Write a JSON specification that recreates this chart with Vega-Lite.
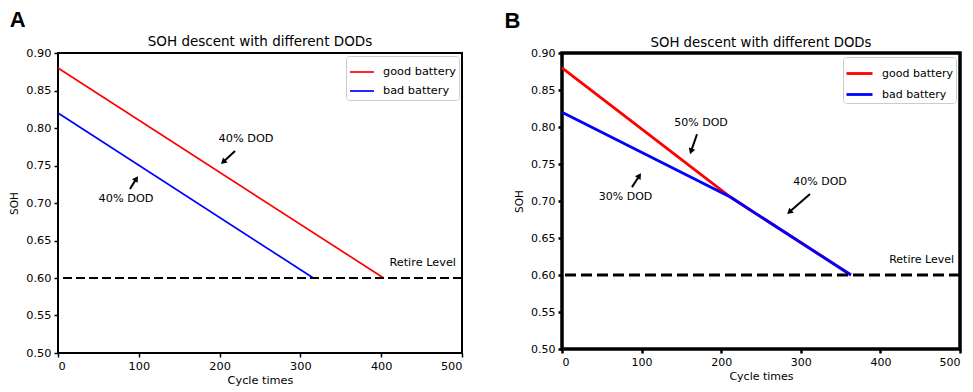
{
  "$schema": "https://vega.github.io/schema/vega-lite/v6.json",
  "background": "white",
  "padding": {"left": 8, "top": 7, "right": 5, "bottom": 5},
  "bounds": "flush",
  "spacing": 100,
  "resolve": {"scale": {"color": "independent"}, "legend": {"color": "independent"}},
  "config": {
    "font": "DejaVu Sans",
    "view": {"stroke": "black"},
    "axis": {
      "domain": false,
      "grid": false,
      "labelOverlap": false,
      "tickColor": "black",
      "labelColor": "black",
      "titleColor": "black",
      "titleFontWeight": "normal",
      "labelFont": "DejaVu Sans",
      "titleFont": "DejaVu Sans"
    },
    "title": {"color": "black", "font": "Liberation Sans", "fontWeight": "bold", "fontSize": 22, "anchor": "start", "frame": "bounds", "offset": 3},
    "legend": {
      "orient": "top-right",
      "offset": 3,
      "fillColor": "white",
      "strokeColor": "#cccccc",
      "cornerRadius": 3,
      "padding": 3,
      "labelColor": "black",
      "labelFont": "DejaVu Sans",
      "labelLimit": 300,
      "labelOffset": 8,
      "rowPadding": -3,
      "symbolType": "stroke"
    }
  },
  "hconcat": [
    {
      "width": 404,
      "height": 300,
      "title": {"text": "A"},
      "view": {"stroke": "black", "strokeWidth": 2},
      "encoding": {
        "x": {"field": "cycle", "type": "quantitative", "title": "Cycle times",
              "scale": {"domain": [0, 500], "nice": false, "zero": false},
              "axis": {"values": [0, 100, 200, 300, 400, 500], "tickSize": 4, "tickWidth": 1.5, "labelPadding": 3, "titlePadding": 3, "labelFontSize": 11.3, "titleFontSize": 11.3, "labelOverlap": false}},
        "y": {"field": "soh", "type": "quantitative", "title": "SOH",
              "scale": {"domain": [0.5, 0.9], "nice": false, "zero": false},
              "axis": {"values": [0.5, 0.55, 0.6, 0.65, 0.7, 0.75, 0.8, 0.85, 0.9], "format": ".2f", "tickSize": 4, "tickWidth": 1.5, "labelPadding": 3, "titlePadding": 6, "labelFontSize": 11.3, "titleFontSize": 10.5, "labelOverlap": false, "labelBound": false}}
      },
      "layer": [
        {
          "data": {"values": [
            {"series": "good battery", "cycle": 0, "soh": 0.88},
            {"series": "good battery", "cycle": 403, "soh": 0.60},
            {"series": "bad battery", "cycle": 0, "soh": 0.82},
            {"series": "bad battery", "cycle": 316, "soh": 0.60}
          ]},
          "mark": {"type": "line", "strokeWidth": 1.7},
          "encoding": {
            "color": {"field": "series", "type": "nominal",
                      "scale": {"domain": ["good battery", "bad battery"], "range": ["#ff0000", "#0000ff"]},
                      "legend": {"title": null, "labelFontSize": 11.3, "symbolSize": 576, "symbolStrokeWidth": 1.7}}
          }
        },
        {
          "data": {"values": [{"soh": 0.6}]},
          "mark": {"type": "rule", "color": "black", "strokeWidth": 2, "strokeDash": [9, 4]},
          "encoding": {"x": null}
        },
        {
          "data": {"values": [{"cycle": 250, "soh": 0.915, "label": "SOH descent with different DODs"}]},
          "mark": {"type": "text", "fontSize": 13.5, "align": "center", "baseline": "middle", "color": "black"},
          "encoding": {"text": {"field": "label"}}
        },
        {
          "data": {"values": [
            {"cycle": 232.7, "soh": 0.7853, "label": "40% DOD"},
            {"cycle": 84.2, "soh": 0.7053, "label": "40% DOD"}
          ]},
          "mark": {"type": "text", "fontSize": 11.3, "align": "center", "baseline": "middle", "color": "black"},
          "encoding": {"text": {"field": "label"}}
        },
        {
          "data": {"values": [{"cycle": 492.6, "soh": 0.6204, "label": "Retire Level"}]},
          "mark": {"type": "text", "fontSize": 11.3, "align": "right", "baseline": "middle", "color": "black"},
          "encoding": {"text": {"field": "label"}}
        },
        {
          "data": {"values": [
            {"cycle": 219.1, "soh": 0.7693, "cycle2": 204.4, "soh2": 0.7547},
            {"cycle": 89.1, "soh": 0.7187, "cycle2": 97.0, "soh2": 0.7325}
          ]},
          "mark": {"type": "rule", "color": "black", "strokeWidth": 2},
          "encoding": {
            "x2": {"field": "cycle2"},
            "y2": {"field": "soh2"}
          }
        },
        {
          "data": {"values": [
            {"cycle": 204.4, "soh": 0.7547, "dir": 227},
            {"cycle": 97.0, "soh": 0.7325, "dir": 32}
          ]},
          "mark": {"type": "point", "shape": "triangle-up", "filled": true, "color": "black", "opacity": 1, "size": 45},
          "encoding": {"angle": {"field": "dir", "type": "quantitative", "scale": null}}
        }
      ]
    },
    {
      "width": 398,
      "height": 296,
      "title": {"text": "B", "dx": -10},
      "view": {"stroke": "black", "strokeWidth": 3.5},
      "encoding": {
        "x": {"field": "cycle", "type": "quantitative", "title": "Cycle times",
              "scale": {"domain": [0, 500], "nice": false, "zero": false},
              "axis": {"values": [0, 100, 200, 300, 400, 500], "tickSize": 4, "tickWidth": 2.5, "labelPadding": 3, "titlePadding": 3, "labelFontSize": 11, "titleFontSize": 11, "labelOverlap": false}},
        "y": {"field": "soh", "type": "quantitative", "title": "SOH",
              "scale": {"domain": [0.5, 0.9], "nice": false, "zero": false},
              "axis": {"values": [0.5, 0.55, 0.6, 0.65, 0.7, 0.75, 0.8, 0.85, 0.9], "format": ".2f", "tickSize": 4, "tickWidth": 2.5, "labelPadding": 3, "titlePadding": 6, "labelFontSize": 11, "titleFontSize": 10.5, "labelOverlap": false, "labelBound": false}}
      },
      "layer": [
        {
          "data": {"values": [
            {"series": "good battery", "cycle": 0, "soh": 0.88},
            {"series": "good battery", "cycle": 212, "soh": 0.705},
            {"series": "good battery", "cycle": 363, "soh": 0.60},
            {"series": "bad battery", "cycle": 0, "soh": 0.82},
            {"series": "bad battery", "cycle": 212, "soh": 0.705},
            {"series": "bad battery", "cycle": 363, "soh": 0.60}
          ]},
          "mark": {"type": "line", "strokeWidth": 2.8},
          "encoding": {
            "color": {"field": "series", "type": "nominal",
                      "scale": {"domain": ["good battery", "bad battery"], "range": ["#ff0000", "#0000ff"]},
                      "legend": {"title": null, "labelFontSize": 11, "symbolSize": 676, "symbolStrokeWidth": 2.8, "rowPadding": -5, "padding": 2, "offset": 4}}
          }
        },
        {
          "data": {"values": [{"soh": 0.6}]},
          "mark": {"type": "rule", "color": "black", "strokeWidth": 2.8, "strokeDash": [11, 5]},
          "encoding": {"x": null}
        },
        {
          "data": {"values": [{"cycle": 250, "soh": 0.9135, "label": "SOH descent with different DODs"}]},
          "mark": {"type": "text", "fontSize": 13.3, "align": "center", "baseline": "middle", "color": "black"},
          "encoding": {"text": {"field": "label"}}
        },
        {
          "data": {"values": [
            {"cycle": 174.6, "soh": 0.805, "label": "50% DOD"},
            {"cycle": 79.8, "soh": 0.7052, "label": "30% DOD"},
            {"cycle": 324.1, "soh": 0.7255, "label": "40% DOD"}
          ]},
          "mark": {"type": "text", "fontSize": 11, "align": "center", "baseline": "middle", "color": "black"},
          "encoding": {"text": {"field": "label"}}
        },
        {
          "data": {"values": [{"cycle": 492.5, "soh": 0.6206, "label": "Retire Level"}]},
          "mark": {"type": "text", "fontSize": 11, "align": "right", "baseline": "middle", "color": "black"},
          "encoding": {"text": {"field": "label"}}
        },
        {
          "data": {"values": [
            {"cycle": 169.6, "soh": 0.7902, "cycle2": 162.1, "soh2": 0.767},
            {"cycle": 87.9, "soh": 0.7187, "cycle2": 97.2, "soh2": 0.7342},
            {"cycle": 311.6, "soh": 0.7093, "cycle2": 285.6, "soh2": 0.685}
          ]},
          "mark": {"type": "rule", "color": "black", "strokeWidth": 2},
          "encoding": {
            "x2": {"field": "cycle2"},
            "y2": {"field": "soh2"}
          }
        },
        {
          "data": {"values": [
            {"cycle": 162.1, "soh": 0.767, "dir": 199},
            {"cycle": 97.2, "soh": 0.7342, "dir": 33},
            {"cycle": 285.6, "soh": 0.685, "dir": 229}
          ]},
          "mark": {"type": "point", "shape": "triangle-up", "filled": true, "color": "black", "opacity": 1, "size": 45},
          "encoding": {"angle": {"field": "dir", "type": "quantitative", "scale": null}}
        }
      ]
    }
  ]
}
